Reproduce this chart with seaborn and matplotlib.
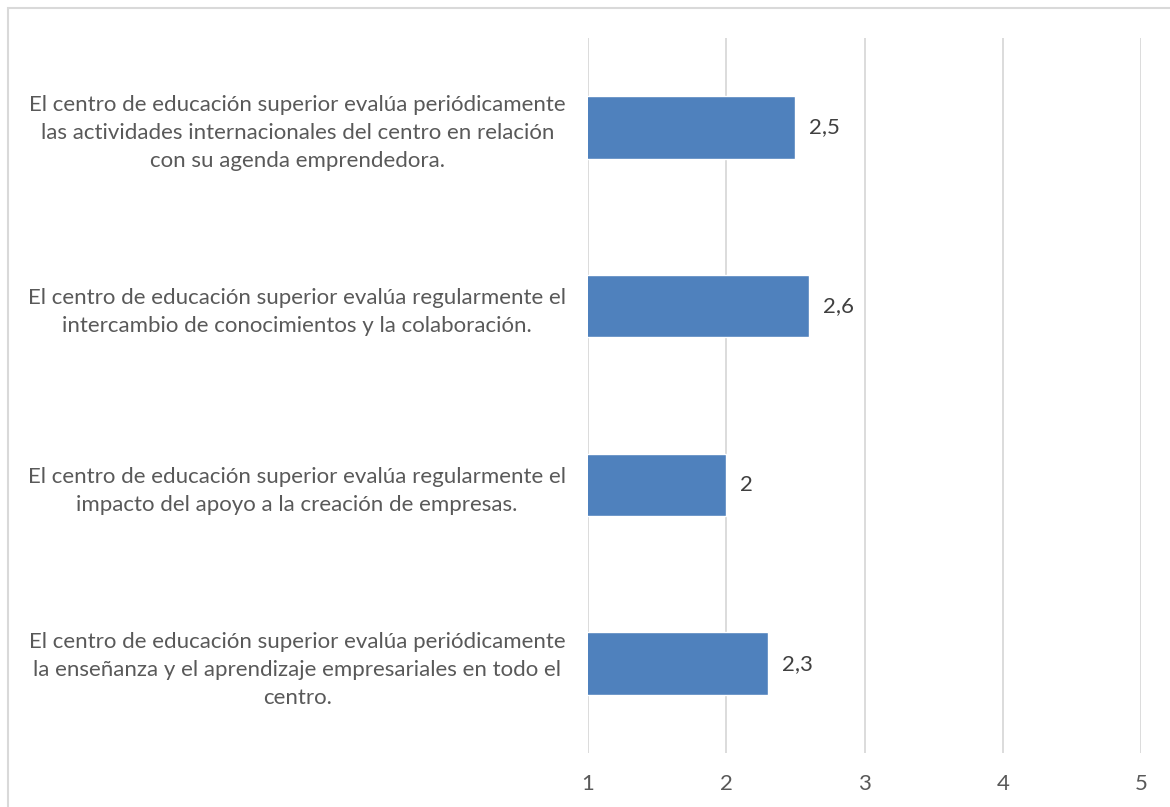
import matplotlib
matplotlib.use("Agg")
import matplotlib.pyplot as plt
import seaborn as sns
import pandas as pd
from matplotlib.patches import Rectangle

categories = [
    "El centro de educación superior evalúa periódicamente\nlas actividades internacionales del centro en relación\ncon su agenda emprendedora.",
    "El centro de educación superior evalúa regularmente el\nintercambio de conocimientos y la colaboración.",
    "El centro de educación superior evalúa regularmente el\nimpacto del apoyo a la creación de empresas.",
    "El centro de educación superior evalúa periódicamente\nla enseñanza y el aprendizaje empresariales en todo el\ncentro.",
]
values = [2.5, 2.6, 2.0, 2.3]
value_labels = ["2,5", "2,6", "2", "2,3"]
x_ticks = [1, 2, 3, 4, 5]

sns.set_theme(style="white")
plt.rcParams['font.family'] = ['Lato', 'DejaVu Sans']

fig = plt.figure(figsize=(11.7, 8.07), dpi=100)
ax = fig.add_axes([588/1170, 1 - 753/807, (1141-588)/1170, (753-38)/807])

df = pd.DataFrame({"cat": categories, "val": values})
sns.barplot(data=df, x="val", y="cat", orient="h", color="#4F81BD",
            saturation=1, width=0.35, ax=ax)

ax.set_xlim(1, 5)
ax.set_xticks(x_ticks)
ax.set_xticklabels([str(t) for t in x_ticks])
ax.grid(axis="x", color="#D9D9D9", linewidth=1.3)
ax.set_axisbelow(True)
for s in ax.spines.values():
    s.set_visible(False)
ax.set_xlabel("")
ax.set_ylabel("")
ax.tick_params(axis="x", length=0, pad=15, labelsize=16, labelcolor="#595959")
ax.tick_params(axis="y", length=0, pad=16, labelsize=16, labelcolor="#595959")
for lab in ax.get_yticklabels():
    lab.set_multialignment("center")
    lab.set_linespacing(1.5)

for i, (v, t) in enumerate(zip(values, value_labels)):
    ax.annotate(t, xy=(v, i), xytext=(10, 0), textcoords="offset points",
                va="center", ha="left", fontsize=16, color="#404040")

fig.patches.append(Rectangle((8/1170, -0.1), 1.2, 1 - 8/807 + 0.1,
                             transform=fig.transFigure, fill=False,
                             edgecolor="#D9D9D9", linewidth=1.5))

fig.savefig("out.png", dpi=100, facecolor="white")
